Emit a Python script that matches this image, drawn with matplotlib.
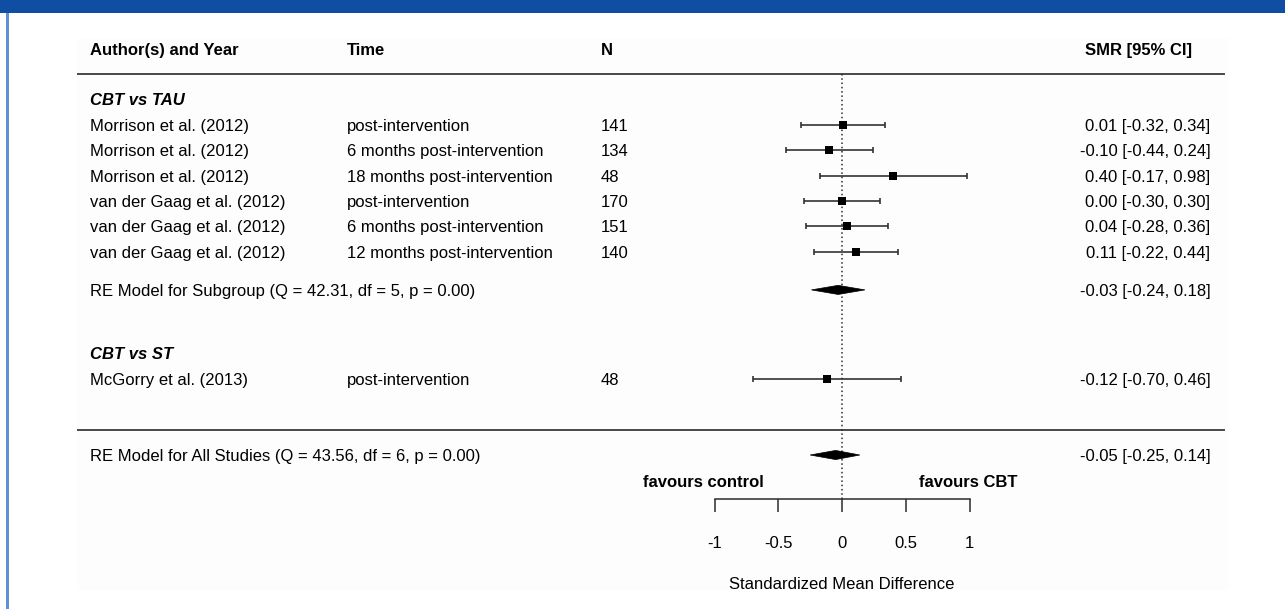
import matplotlib
matplotlib.use("Agg")
import matplotlib.pyplot as plt
from matplotlib.patches import Rectangle, Polygon

plt.rcParams['font.family'] = ['Liberation Sans', 'DejaVu Sans']
plt.rcParams['axes.unicode_minus'] = False

# ---------------- data ----------------
group_titles = ["CBT vs TAU", "CBT vs ST"]
authors = ["Morrison et al. (2012)", "Morrison et al. (2012)", "Morrison et al. (2012)",
           "van der Gaag et al. (2012)", "van der Gaag et al. (2012)", "van der Gaag et al. (2012)",
           "McGorry et al. (2013)"]
times = ["post-intervention", "6 months post-intervention", "18 months post-intervention",
         "post-intervention", "6 months post-intervention", "12 months post-intervention",
         "post-intervention"]
n_values = [141, 134, 48, 170, 151, 140, 48]
est = [0.01, -0.10, 0.40, 0.00, 0.04, 0.11, -0.12]
ci_lo = [-0.32, -0.44, -0.17, -0.30, -0.28, -0.22, -0.70]
ci_hi = [0.34, 0.24, 0.98, 0.30, 0.36, 0.44, 0.46]
study_rows = [12, 11, 10, 9, 8, 7, 2]
group_rows = [13, 3]

sub_label = "RE Model for Subgroup (Q = 42.31, df = 5, p = 0.00)"
sub_est, sub_lo, sub_hi = -0.03, -0.24, 0.18
sub_row = 5.5
all_label = "RE Model for All Studies (Q = 43.56, df = 6, p = 0.00)"
all_est, all_lo, all_hi = -0.05, -0.25, 0.14
all_row = -1

headers = ["Author(s) and Year", "Time", "N", "SMR [95% CI]"]
xticks = [-1, -0.5, 0, 0.5, 1]
xtick_labels = ["-1", "-0.5", "0", "0.5", "1"]
xlabel = "Standardized Mean Difference"
favours = ["favours control", "favours CBT"]

# ---------------- layout ----------------
W, H = 1285, 609
fig = plt.figure(figsize=(W / 100, H / 100), dpi=100)
fig.patch.set_facecolor("white")

# frame decorations (figure pixel based)
fig.patches.append(Rectangle((77 / W, 1 - 590 / H), (1228 - 77) / W, (590 - 38) / H,
                             transform=fig.transFigure, facecolor="#fdfdfd", edgecolor="none", zorder=-2))
fig.patches.append(Rectangle((0, 1 - 13 / H), 1, 13 / H, transform=fig.transFigure,
                             facecolor="#0f4ea2", edgecolor="none", zorder=-1))
fig.patches.append(Rectangle((6 / W, 0), 2.5 / W, 1 - 13 / H, transform=fig.transFigure,
                             facecolor="#5f8fd4", edgecolor="none", zorder=-1))

ax = fig.add_axes([0, 0, 1, 1])
ax.set_zorder(5)
ax.patch.set_visible(False)
x0px, scale = 842, 127.5
ax.set_xlim(-x0px / scale, (W - x0px) / scale)


def ypx(p):
    return -1 + (455 - p) / 25.4


ax.set_ylim(ypx(H), ypx(0))

FS = 12
dark = "#2b2b2b"
base = 6 / 25.4  # baseline offset so caps are centred on row

x_author, x_time, x_n = -5.9, -3.882, -1.89
x_right, x_head_right = 2.89, 2.745

# headers
hy = 15
ax.text(x_author, hy - base, headers[0], fontsize=FS, fontweight="bold", va="baseline", ha="left")
ax.text(x_time, hy - base, headers[1], fontsize=FS, fontweight="bold", va="baseline", ha="left")
ax.text(x_n, hy - base, headers[2], fontsize=FS, fontweight="bold", va="baseline", ha="left")
ax.text(x_head_right, hy - base, headers[3], fontsize=FS, fontweight="bold", va="baseline", ha="right")

# horizontal rules
ax.plot([-6, 3.005], [14, 14], color="#3a3a3a", lw=1.3, solid_capstyle="butt")
ax.plot([-6, 3.005], [0, 0], color="#3a3a3a", lw=1.3, solid_capstyle="butt")

# reference line
ax.plot([0, 0], [14, ypx(499)], color=dark, lw=1.1, linestyle=(0, (1, 1.8)), zorder=2)

# group titles
for g, r in zip(group_titles, group_rows):
    ax.text(x_author, r - base, g, fontsize=FS, fontweight="bold", fontstyle="italic",
            va="baseline", ha="left")

# studies
for a, t, n, e, lo, hi, r in zip(authors, times, n_values, est, ci_lo, ci_hi, study_rows):
    ax.text(x_author, r - base, a, fontsize=FS, va="baseline", ha="left")
    ax.text(x_time, r - base, t, fontsize=FS, va="baseline", ha="left")
    ax.text(x_n, r - base, str(n), fontsize=FS, va="baseline", ha="left")
    ax.text(x_right, r - base, f"{e:.2f} [{lo:.2f}, {hi:.2f}]", fontsize=FS, va="baseline", ha="right")
    ax.errorbar([e], [r], xerr=[[e - lo], [hi - e]], fmt="none", ecolor=dark, elinewidth=1.15,
                capsize=2.2, capthick=1.15, zorder=3)
    ax.plot([e], [r], marker="s", markersize=5.6, color="black", markeredgewidth=0, zorder=4)

# summary diamonds
dh = 0.18
for lab, e, lo, hi, r in [(sub_label, sub_est, sub_lo, sub_hi, sub_row),
                           (all_label, all_est, all_lo, all_hi, all_row)]:
    ax.text(x_author, r - base, lab, fontsize=FS, va="baseline", ha="left")
    ax.text(x_right, r - base, f"{e:.2f} [{lo:.2f}, {hi:.2f}]", fontsize=FS, va="baseline", ha="right")
    ax.add_patch(Polygon([(lo, r), (e, r + dh), (hi, r), (e, r - dh)], closed=True,
                         facecolor="black", edgecolor="black", lw=0.5, zorder=4))

# favours labels
fy = ypx(481)
ax.text(-1.086, fy - base, favours[0], fontsize=FS, fontweight="bold", va="baseline", ha="center")
ax.text(0.988, fy - base, favours[1], fontsize=FS, fontweight="bold", va="baseline", ha="center")

# x axis
for s in ["top", "left", "right"]:
    ax.spines[s].set_visible(False)
ax.spines["bottom"].set_position(("data", ypx(499)))
ax.spines["bottom"].set_bounds(-1, 1)
ax.spines["bottom"].set_color(dark)
ax.spines["bottom"].set_linewidth(1.1)
ax.set_xticks(xticks)
ax.set_xticklabels(xtick_labels)
ax.tick_params(axis="x", direction="out", length=9.4, width=1.1, color=dark, pad=17, labelsize=FS)
ax.set_yticks([])
ax.text(0, ypx(583) - base, xlabel, fontsize=FS, va="baseline", ha="center")

fig.savefig("out.png", dpi=100)
